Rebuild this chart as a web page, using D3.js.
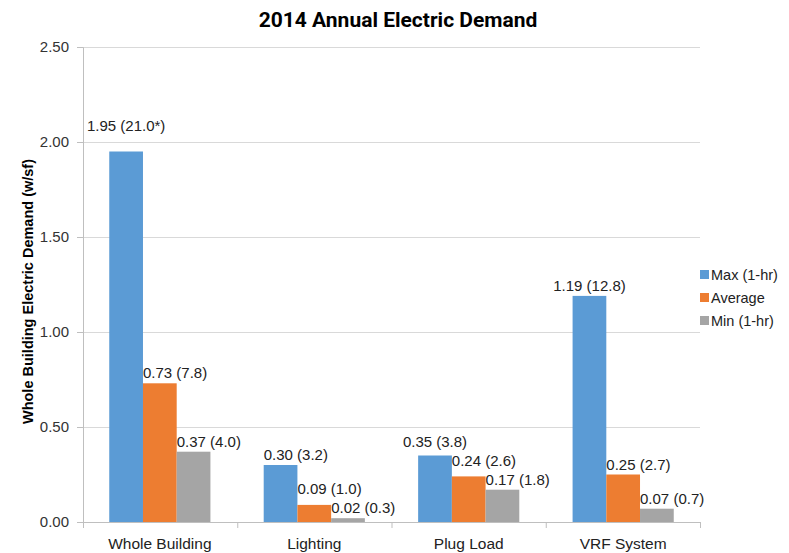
<!DOCTYPE html>
<html lang="en">
<head>
  <meta charset="UTF-8">
  <title>2014 Annual Electric Demand</title>
  <script src="https://d3js.org/d3.v7.min.js"></script>
  <style>
    body { margin: 0; background: #fff; }
    text { font-family: "Liberation Sans", Arial, sans-serif; }
  </style>
</head>
<body>
  <div id="viz"></div>

  <script>
    // Chart data
    const categories = ["Whole Building", "Lighting", "Plug Load", "VRF System"];
    const seriesNames = ["Max (1-hr)", "Average", "Min (1-hr)"];
    const maxValues = [1.95, 0.30, 0.35, 1.19];
    const avgValues = [0.73, 0.09, 0.24, 0.25];
    const minValues = [0.37, 0.02, 0.17, 0.07];
    const maxLabels = ["1.95 (21.0*)", "0.30 (3.2)", "0.35 (3.8)", "1.19 (12.8)"];
    const avgLabels = ["0.73 (7.8)", "0.09 (1.0)", "0.24 (2.6)", "0.25 (2.7)"];
    const minLabels = ["0.37 (4.0)", "0.02 (0.3)", "0.17 (1.8)", "0.07 (0.7)"];
    const yTicks = [0, 0.5, 1.0, 1.5, 2.0, 2.5];
    const colors = ["#5b9bd5", "#ed7d31", "#a5a5a5"];

    const values = [maxValues, avgValues, minValues];
    const labels = [maxLabels, avgLabels, minLabels];

    const W = 789, H = 553;
    const margin = { top: 47, right: 89, bottom: 31, left: 83 },
          width = W - margin.left - margin.right,
          height = H - margin.top - margin.bottom;

    const svg = d3.select('#viz')
      .append('svg')
        .attr('width', W)
        .attr('height', H);

    const g = svg.append('g')
        .attr('transform', `translate(${margin.left}, ${margin.top})`);

    const x0 = d3.scaleBand()
      .domain(categories)
      .range([0, width])
      .paddingInner(0.345)
      .paddingOuter(0.17);
    const x1 = d3.scaleBand()
      .domain(seriesNames)
      .range([0, x0.bandwidth()]);
    const y = d3.scaleLinear()
      .domain([0, 2.5])
      .range([height, 0]);

    // gridlines
    const gridVals = yTicks.filter(d => d > 0);
    g.append('g')
      .selectAll('line')
      .data(gridVals)
      .join('line')
        .attr('x1', 0)
        .attr('x2', width)
        .attr('y1', d => y(d) + 0.5)
        .attr('y2', d => y(d) + 0.5)
        .attr('stroke', '#d9d9d9');

    // y axis
    const yAxis = g.append('g')
      .call(d3.axisLeft(y).tickValues(yTicks).tickFormat(d3.format('.2f')).tickSize(6).tickPadding(8));
    yAxis.select('.domain').attr('stroke', '#bfbfbf');
    yAxis.selectAll('.tick line').attr('stroke', '#bfbfbf');
    yAxis.selectAll('.tick text')
      .attr('font-size', 15)
      .attr('fill', '#333')
      .style('font-family', '"Liberation Sans", Arial, sans-serif');

    // bars
    const groups = g.append('g')
      .selectAll('g')
      .data(categories)
      .join('g')
        .attr('transform', d => `translate(${x0(d)}, 0)`);

    groups.each(function(cat, ci) {
      const grp = d3.select(this);
      seriesNames.forEach((s, si) => {
        const v = values[si][ci];
        grp.append('rect')
          .attr('x', x1(s))
          .attr('y', y(v))
          .attr('width', x1.bandwidth())
          .attr('height', height - y(v))
          .attr('fill', colors[si]);
      });
    });

    // data labels, drawn after bars so they sit on top
    groups.each(function(cat, ci) {
      const grp = d3.select(this);
      const texts = seriesNames.map((s, si) => {
        const v = values[si][ci];
        let base = y(v) - 5;
        // keep label clear of a gridline
        gridVals.forEach(gv => {
          const gy = y(gv);
          if (gy > base - 12 && gy < base + 2) base = gy - 11;
        });
        const centred = si === 0 && ci !== 1;
        return grp.append('text')
          .attr('x', centred ? x1(s) + x1.bandwidth() / 2 : x1(s))
          .attr('y', base)
          .attr('text-anchor', centred ? 'middle' : 'start')
          .attr('font-size', 15)
          .attr('fill', '#222')
          .text(labels[si][ci]);
      });
      // push a label up when it runs into the next series' label
      for (let si = texts.length - 2; si >= 0; si--) {
        const a = texts[si], b = texts[si + 1];
        const ba = a.node().getBBox(), bb = b.node().getBBox();
        const ya = +a.attr('y'), yb = +b.attr('y');
        if (ba.x + ba.width > bb.x && yb - ya < 19) a.attr('y', yb - 19);
      }
    });

    // x axis
    const xAxis = g.append('g')
      .attr('transform', `translate(0, ${height})`);
    xAxis.append('line')
      .attr('x1', 0).attr('x2', width)
      .attr('y1', 0.5).attr('y2', 0.5)
      .attr('stroke', '#bfbfbf');
    xAxis.selectAll('.sep')
      .data(d3.range(categories.length + 1).map(i => i * width / categories.length))
      .join('line')
        .attr('class', 'sep')
        .attr('x1', d => d + 0.5).attr('x2', d => d + 0.5)
        .attr('y1', 0).attr('y2', 6)
        .attr('stroke', '#bfbfbf');
    xAxis.selectAll('.xl')
      .data(categories)
      .join('text')
        .attr('class', 'xl')
        .attr('x', d => x0(d) + x0.bandwidth() / 2)
        .attr('y', 27)
        .attr('text-anchor', 'middle')
        .attr('font-size', 15.5)
        .attr('fill', '#222')
        .text(d => d);

    // title
    svg.append('text')
      .attr('x', 398)
      .attr('y', 27)
      .attr('text-anchor', 'middle')
      .attr('font-size', 21)
      .attr('font-weight', 'bold')
      .style('font-family', 'Roboto, sans-serif')
      .attr('fill', '#000')
      .text('2014 Annual Electric Demand');

    // y axis title
    svg.append('text')
      .attr('transform', `translate(33, ${margin.top + height / 2 + 7}) rotate(-90)`)
      .attr('text-anchor', 'middle')
      .attr('font-size', 14.5)
      .attr('font-weight', 'bold')
      .attr('fill', '#000')
      .text('Whole Building Electric Demand (w/sf)');

    // legend
    const legend = svg.append('g')
      .attr('transform', `translate(700, 275)`);
    seriesNames.forEach((s, i) => {
      const row = legend.append('g').attr('transform', `translate(0, ${i * 23})`);
      row.append('rect')
        .attr('x', 0).attr('y', -5)
        .attr('width', 9).attr('height', 9)
        .attr('fill', colors[i]);
      row.append('text')
        .attr('x', 11).attr('y', 5)
        .attr('font-size', 14.5)
        .attr('fill', '#222')
        .text(s);
    });
  </script>
</body>
</html>
